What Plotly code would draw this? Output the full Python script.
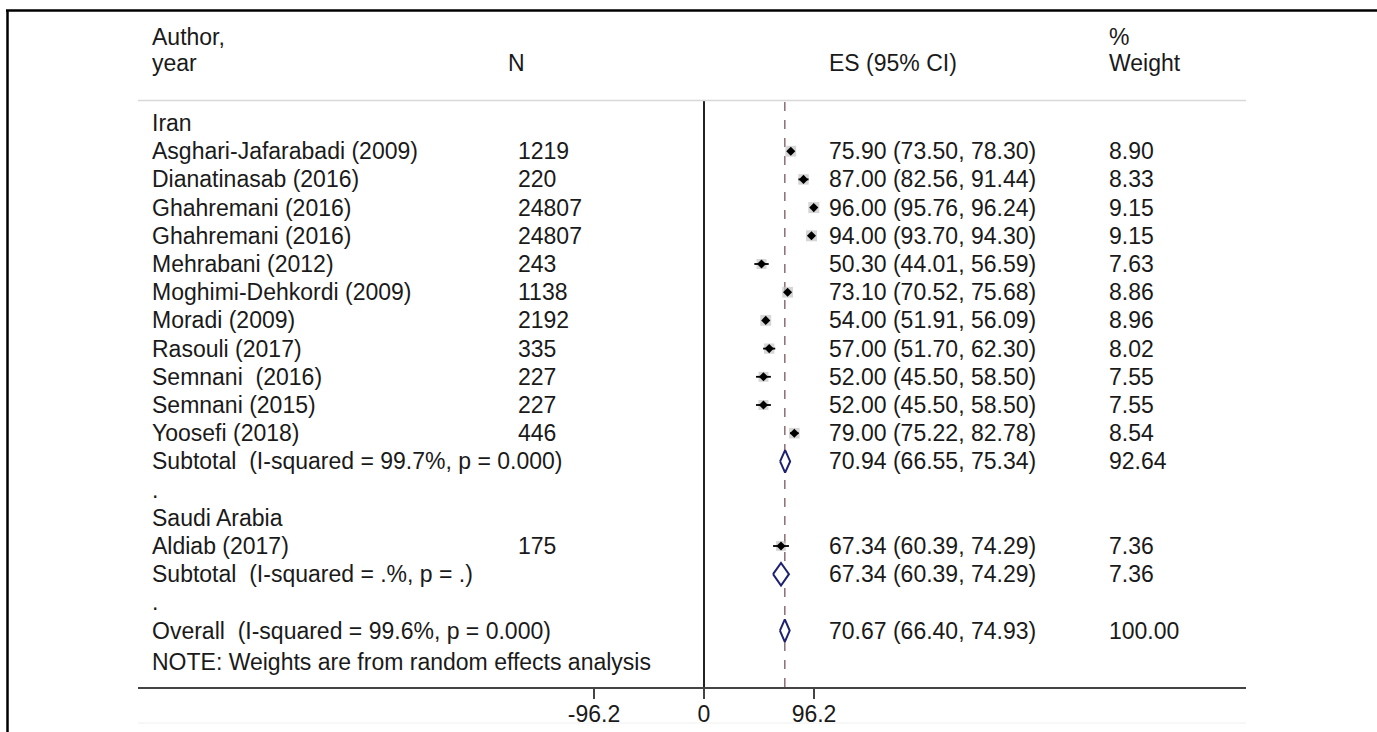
import plotly.graph_objects as go

# ---------------- data ----------------
groups = ["Iran", "Saudi Arabia"]
study_group = ["Iran"] * 11 + ["Saudi Arabia"]
studies = ["Asghari-Jafarabadi (2009)", "Dianatinasab (2016)", "Ghahremani (2016)",
           "Ghahremani (2016)", "Mehrabani (2012)", "Moghimi-Dehkordi (2009)",
           "Moradi (2009)", "Rasouli (2017)", "Semnani\u00a0 (2016)", "Semnani (2015)",
           "Yoosefi (2018)", "Aldiab (2017)"]
n_sizes = [1219, 220, 24807, 24807, 243, 1138, 2192, 335, 227, 227, 446, 175]
es = [75.90, 87.00, 96.00, 94.00, 50.30, 73.10, 54.00, 57.00, 52.00, 52.00, 79.00, 67.34]
lo = [73.50, 82.56, 95.76, 93.70, 44.01, 70.52, 51.91, 51.70, 45.50, 45.50, 75.22, 60.39]
hi = [78.30, 91.44, 96.24, 94.30, 56.59, 75.68, 56.09, 62.30, 58.50, 58.50, 82.78, 74.29]
weights = [8.90, 8.33, 9.15, 9.15, 7.63, 8.86, 8.96, 8.02, 7.55, 7.55, 8.54, 7.36]

sub_labels = ["Subtotal\u00a0 (I-squared = 99.7%, p = 0.000)", "Subtotal\u00a0 (I-squared = .%, p = .)"]
sub_es = [70.94, 67.34]
sub_lo = [66.55, 60.39]
sub_hi = [75.34, 74.29]
sub_w = [92.64, 7.36]

overall_label = "Overall\u00a0 (I-squared = 99.6%, p = 0.000)"
overall_es, overall_lo, overall_hi, overall_w = 70.67, 66.40, 74.93, 100.00
note = "NOTE: Weights are from random effects analysis"

tick_vals = [-96.2, 0, 96.2]
tick_text = ["-96.2", "0", "96.2"]

# ---------------- layout helpers ----------------
W, H = 1377, 732
FONT = "Liberation Sans, Arial, sans-serif"
TXT = "#1a1a1a"
FS = 23
NAVY = "#1c2170"

ax_left_px, ax_right_px, zero_px = 138, 1246, 704
px_per_unit = 110 / 96.2
x_range = [-(zero_px - ax_left_px) / px_per_unit, (ax_right_px - zero_px) / px_per_unit]
top_px, bottom_px = 100, 687
row0_px, row_h = 123, 28.2
y_range = [(bottom_px - row0_px) / row_h, (top_px - row0_px) / row_h]

def px2x(px):
    return (px - zero_px) / px_per_unit

def py2paper(py):
    return 1 - py / H

col_label, col_n, col_es, col_w = px2x(150), px2x(516), px2x(827), px2x(1107)

# build rows
rows = []  # (kind, idx)
for gi, g in enumerate(groups):
    rows.append(("group", gi))
    for si, sg in enumerate(study_group):
        if sg == g:
            rows.append(("study", si))
    rows.append(("sub", gi))
    rows.append(("dot", None))
rows.append(("overall", None))
rows.append(("note", None))

fig = go.Figure()
ann = []

def add_text(x, y, text):
    ann.append(dict(x=x, y=y, xref="x", yref="y", text=text, showarrow=False,
                    xanchor="left", yanchor="middle",
                    font=dict(family=FONT, size=FS, color=TXT)))

def ci_text(e, l, h):
    return f"{e:.2f} ({l:.2f}, {h:.2f})"

ci_x, ci_y = [], []
box_x, box_y, box_s = [], [], []
diamonds = []
for r, (kind, i) in enumerate(rows):
    if kind == "group":
        add_text(col_label, r, groups[i])
    elif kind == "study":
        add_text(col_label, r, studies[i])
        add_text(col_n, r, str(n_sizes[i]))
        add_text(col_es, r, ci_text(es[i], lo[i], hi[i]))
        add_text(col_w, r, f"{weights[i]:.2f}")
        ci_x += [lo[i], hi[i], None]
        ci_y += [r, r, None]
        box_x.append(es[i]); box_y.append(r); box_s.append(11 * (weights[i] / 9.15) ** 0.5)
    elif kind == "sub":
        add_text(col_label, r, sub_labels[i])
        add_text(col_es, r, ci_text(sub_es[i], sub_lo[i], sub_hi[i]))
        add_text(col_w, r, f"{sub_w[i]:.2f}")
        diamonds.append((sub_es[i], sub_lo[i], sub_hi[i], r))
    elif kind == "dot":
        add_text(col_label, r, ".")
    elif kind == "overall":
        add_text(col_label, r, overall_label)
        add_text(col_es, r, ci_text(overall_es, overall_lo, overall_hi))
        add_text(col_w, r, f"{overall_w:.2f}")
        diamonds.append((overall_es, overall_lo, overall_hi, r))
    elif kind == "note":
        add_text(col_label, r + 0.12, note)

# headers
for txt, px, py in [("Author,", 150, 37), ("year", 150, 63), ("N", 506, 63),
                    ("ES (95% CI)", 827, 63), ("%", 1107, 37), ("Weight", 1107, 63)]:
    ann.append(dict(x=px2x(px), y=py2paper(py), xref="x", yref="paper", text=txt,
                    showarrow=False, xanchor="left", yanchor="middle",
                    font=dict(family=FONT, size=FS, color=TXT)))

# weight boxes
fig.add_trace(go.Scatter(x=box_x, y=box_y, mode="markers", hoverinfo="skip",
                         marker=dict(symbol="square", size=box_s, color="#c4c4c4", line=dict(width=0))))
# CI lines
fig.add_trace(go.Scatter(x=ci_x, y=ci_y, mode="lines", hoverinfo="skip",
                         line=dict(color="#000000", width=1.8)))
# point estimates
fig.add_trace(go.Scatter(x=box_x, y=box_y, mode="markers", hoverinfo="skip",
                         marker=dict(symbol="diamond", size=7, color="#000000")))
# diamonds
dh = 0.4
for (e, l, h, r) in diamonds:
    fig.add_trace(go.Scatter(x=[l, e, h, e, l], y=[r, r - dh, r, r + dh, r], mode="lines",
                             fill="toself", fillcolor="white", hoverinfo="skip",
                             line=dict(color=NAVY, width=2)))

shapes = [
    # overall dashed line
    dict(type="line", xref="x", yref="y domain", x0=overall_es, x1=overall_es, y0=0, y1=1,
         line=dict(color="#8c6d74", width=1.5, dash="dash"), layer="below"),
    # header separator
    dict(type="line", xref="x domain", yref="paper", x0=0, x1=1,
         y0=py2paper(100.5), y1=py2paper(100.5), line=dict(color="#d8d8d8", width=1.5)),
    # faint bottom line
    dict(type="line", xref="x domain", yref="paper", x0=0, x1=1,
         y0=py2paper(723), y1=py2paper(723), line=dict(color="#f0f0f0", width=1)),
    # frame
    dict(type="line", xref="paper", yref="paper", x0=6 / W, x1=1, y0=py2paper(10.5), y1=py2paper(10.5),
         line=dict(color="black", width=2.5)),
    dict(type="line", xref="paper", yref="paper", x0=7.5 / W, x1=7.5 / W, y0=py2paper(10), y1=0,
         line=dict(color="black", width=2.5)),
]

fig.update_layout(
    width=W, height=H, autosize=False,
    margin=dict(l=0, r=0, t=0, b=0),
    paper_bgcolor="white", plot_bgcolor="white",
    showlegend=False,
    annotations=ann, shapes=shapes,
    xaxis=dict(domain=[ax_left_px / W, ax_right_px / W], range=x_range,
               showgrid=False, zeroline=True, zerolinecolor="#222222", zerolinewidth=1.5,
               showline=True, linecolor="#444444", linewidth=1.5,
               ticks="outside", ticklen=10, tickwidth=1.5, tickcolor="#444444",
               ticklabelstandoff=-4,
               tickvals=tick_vals, ticktext=tick_text,
               tickfont=dict(family=FONT, size=FS, color=TXT), fixedrange=True),
    yaxis=dict(domain=[1 - bottom_px / H, 1 - top_px / H], range=y_range,
               visible=False, showgrid=False, zeroline=False, fixedrange=True),
)

fig.write_html("out.html", config={"displayModeBar": False},
               post_script="document.body.style.margin='0';document.body.style.overflow='hidden';")
